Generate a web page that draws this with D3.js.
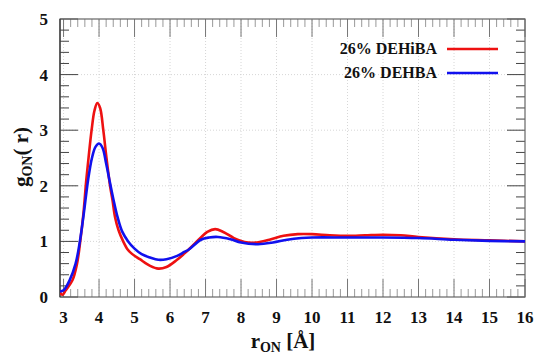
<!DOCTYPE html>
<html><head><meta charset="utf-8">
<script src="https://cdn.jsdelivr.net/npm/d3@7"></script>
<style>body{margin:0;background:#fff}svg{display:block}
svg text{font-family:"Liberation Serif","DejaVu Serif","Noto Serif","Times New Roman",serif;font-weight:bold;fill:#111}</style>
</head><body>
<script>
const seriesNames = ["26% DEHiBA", "26% DEHBA"];
const seriesColors = ["#ee1111", "#1111ee"];
const rRed = [2.9,2.97,3.06,3.25,3.38,3.47,3.56,3.64,3.72,3.79,3.87,3.95,4.03,4.12,4.2,4.31,4.38,4.45,4.55,4.68,4.8,4.92,5.15,5.44,5.67,5.9,6.18,6.4,6.6,6.87,7.05,7.27,7.5,7.8,8.1,8.44,8.8,9.2,9.6,10.0,10.5,11.0,11.5,12.0,12.5,13.0,14.0,15.0,16.0];
const gRed = [0.08,0.04,0.12,0.3,0.6,1.0,1.5,2.1,2.6,3.0,3.35,3.49,3.4,3.0,2.55,2.0,1.74,1.44,1.2,1.0,0.86,0.78,0.68,0.56,0.51,0.54,0.66,0.78,0.9,1.07,1.17,1.22,1.17,1.06,0.99,0.98,1.03,1.1,1.13,1.13,1.11,1.1,1.11,1.12,1.11,1.08,1.04,1.02,1.0];
const rBlue = [2.9,3.0,3.17,3.34,3.46,3.57,3.69,3.8,3.9,4.0,4.1,4.2,4.31,4.41,4.52,4.65,4.82,5.0,5.2,5.44,5.67,5.9,6.2,6.4,6.52,6.87,7.1,7.35,7.7,8.0,8.48,8.9,9.3,9.7,10.0,11.0,12.0,13.0,14.0,15.0,16.0];
const gBlue = [0.1,0.12,0.3,0.6,1.0,1.5,2.1,2.5,2.7,2.76,2.68,2.4,2.05,1.74,1.44,1.18,1.0,0.87,0.77,0.71,0.67,0.68,0.74,0.81,0.85,1.03,1.07,1.08,1.04,0.98,0.95,0.98,1.03,1.06,1.07,1.07,1.07,1.06,1.03,1.01,1.0];
const xTicks = [3,4,5,6,7,8,9,10,11,12,13,14,15,16];
const yTicks = [0,1,2,3,4,5];

const W = 537, H = 354;
const m = {l:60, t:19, r:12, b:57};
const svg = d3.select("body").append("svg").attr("width", W).attr("height", H);
const x = d3.scaleLinear().domain([2.9,16]).range([m.l, W-m.r]);
const y = d3.scaleLinear().domain([0,5]).range([H-m.b, m.t]);
const x0 = x.range()[0], x1 = x.range()[1], y0 = y.range()[0], y1 = y.range()[1];

// grid
svg.append("g").selectAll("line").data(xTicks.filter(d=>d<16)).join("line")
  .attr("x1", d=>x(d)).attr("x2", d=>x(d)).attr("y1", y0).attr("y2", y1)
  .attr("stroke", "#ccc").attr("stroke-width", 0.8).attr("stroke-dasharray", "1,2");
svg.append("g").selectAll("line").data(yTicks.filter(d=>d>0&&d<5)).join("line")
  .attr("x1", x0).attr("x2", x1).attr("y1", d=>y(d)).attr("y2", d=>y(d))
  .attr("stroke", "#ccc").attr("stroke-width", 0.8).attr("stroke-dasharray", "1,2");

// minor ticks
const xMinor = d3.range(3, 16.001, 0.2).map(v=>+v.toFixed(1)).filter(v=>Math.abs(v-Math.round(v))>0.01);
const yMinor = d3.range(0, 5.001, 0.2).map(v=>+v.toFixed(1)).filter(v=>Math.abs(v-Math.round(v))>0.01);
const tg = svg.append("g");
xMinor.forEach(v=>{
  tg.append("line").attr("x1",x(v)).attr("x2",x(v)).attr("y1",y0).attr("y2",y0-8).attr("stroke","#999").attr("stroke-width",1);
  tg.append("line").attr("x1",x(v)).attr("x2",x(v)).attr("y1",y1).attr("y2",y1+8).attr("stroke","#999").attr("stroke-width",1);
});
xTicks.forEach(v=>{
  tg.append("line").attr("x1",x(v)).attr("x2",x(v)).attr("y1",y0).attr("y2",y0-18).attr("stroke","#777").attr("stroke-width",1);
  tg.append("line").attr("x1",x(v)).attr("x2",x(v)).attr("y1",y1).attr("y2",y1+18).attr("stroke","#777").attr("stroke-width",1);
});
yMinor.forEach(v=>{
  tg.append("line").attr("x1",x0).attr("x2",x0+9).attr("y1",y(v)).attr("y2",y(v)).attr("stroke","#444").attr("stroke-width",1);
  tg.append("line").attr("x1",x1).attr("x2",x1-9).attr("y1",y(v)).attr("y2",y(v)).attr("stroke","#444").attr("stroke-width",1);
});
yTicks.forEach(v=>{
  tg.append("line").attr("x1",x0).attr("x2",x0+18).attr("y1",y(v)).attr("y2",y(v)).attr("stroke","#444").attr("stroke-width",1);
  tg.append("line").attr("x1",x1).attr("x2",x1-18).attr("y1",y(v)).attr("y2",y(v)).attr("stroke","#444").attr("stroke-width",1);
});

// frame
svg.append("rect").attr("x",x0).attr("y",y1).attr("width",x1-x0).attr("height",y0-y1)
  .attr("fill","none").attr("stroke","#666").attr("stroke-width",1.2);
svg.append("line").attr("x1",x0).attr("x2",x0).attr("y1",y0).attr("y2",y1).attr("stroke","#333").attr("stroke-width",1.2);

// tick labels
svg.append("g").selectAll("text").data(xTicks).join("text")
  .attr("x", d=>x(d)).attr("y", y0+26).attr("text-anchor","middle").attr("font-size",17).text(d=>d);
svg.append("g").selectAll("text").data(yTicks).join("text")
  .attr("x", x0-12).attr("y", d=>y(d)+6).attr("text-anchor","end").attr("font-size",17).text(d=>d);

// clip
svg.append("clipPath").attr("id","cp").append("rect").attr("x",x0).attr("y",y1).attr("width",x1-x0).attr("height",y0-y1);
const line = d3.line().x(d=>x(d[0])).y(d=>y(d[1])).curve(d3.curveCatmullRom.alpha(0.5));
const lg = svg.append("g").attr("clip-path","url(#cp)");
lg.append("path").datum(rRed.map((r,i)=>[r,gRed[i]])).attr("d",line).attr("fill","none").attr("stroke",seriesColors[0]).attr("stroke-width",2.6);
lg.append("path").datum(rBlue.map((r,i)=>[r,gBlue[i]])).attr("d",line).attr("fill","none").attr("stroke",seriesColors[1]).attr("stroke-width",2.6);

// legend
seriesNames.forEach((n,i)=>{
  const ly = 49 + i*24;
  svg.append("text").attr("x",437).attr("y",ly+5).attr("text-anchor","end").attr("font-size",16).text(n);
  svg.append("line").attr("x1",447).attr("x2",498).attr("y1",ly).attr("y2",ly).attr("stroke",seriesColors[i]).attr("stroke-width",2.6);
});

// axis titles
const xt = svg.append("text").attr("x",283).attr("y",348).attr("text-anchor","middle").attr("font-size",21);
xt.append("tspan").text("r");
xt.append("tspan").attr("font-size",14).attr("dy",4).text("ON");
xt.append("tspan").attr("dy",-4).text(" [Å]");
const yt = svg.append("text").attr("transform","translate(28,157) rotate(-90)").attr("text-anchor","middle").attr("font-size",21);
yt.append("tspan").text("g");
yt.append("tspan").attr("font-size",14).attr("dy",4).text("ON");
yt.append("tspan").attr("dy",-4).text("( r)");
</script>
</body></html>
